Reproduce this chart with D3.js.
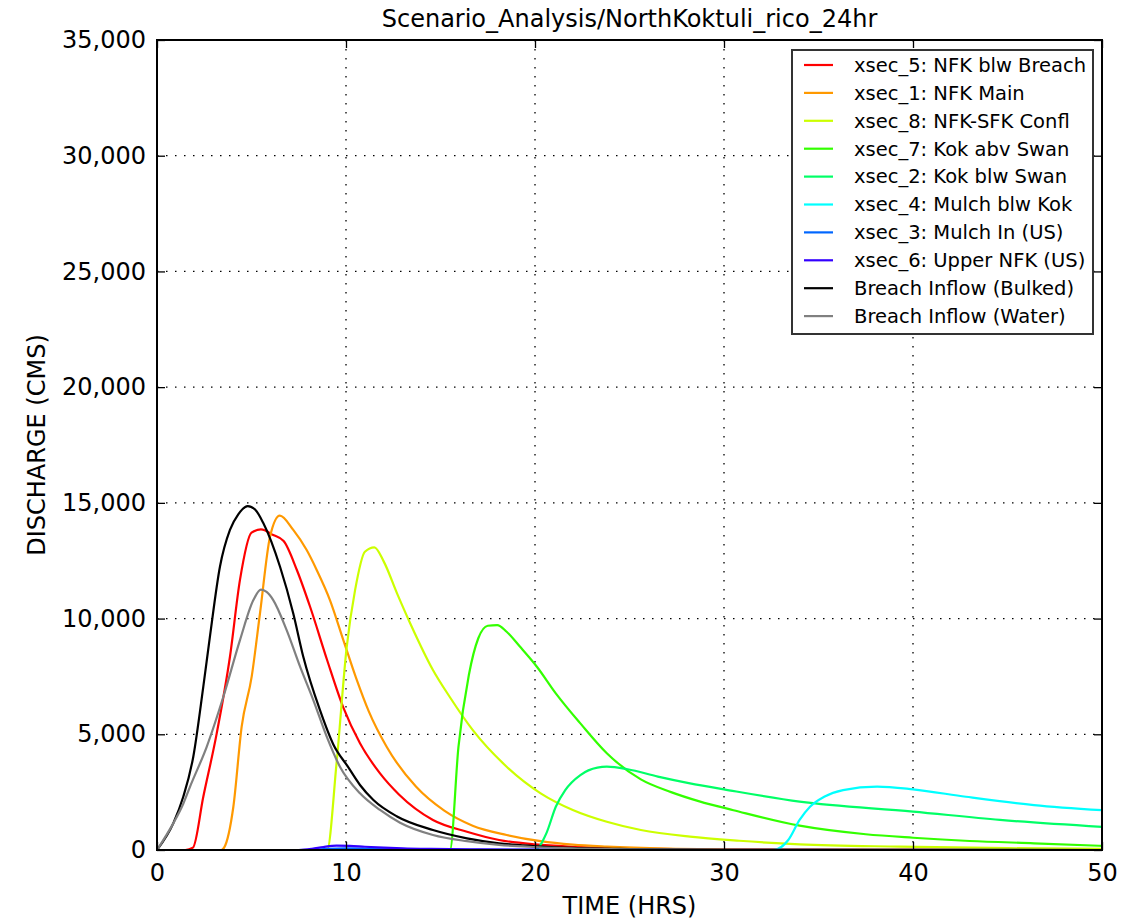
<!DOCTYPE html>
<html lang="en">
<head>
<meta charset="utf-8">
<title>Scenario_Analysis/NorthKoktuli_rico_24hr</title>
<script src="https://d3js.org/d3.v7.min.js"></script>
<style>
  body { margin: 0; background: #fff; }
  text { font-family: "DejaVu Sans", sans-serif; fill: #000; }
  .grid line { stroke: #000; stroke-width: 1.3; stroke-dasharray: 1.5,7.5; }
  .series { fill: none; stroke-width: 2.2; stroke-linejoin: round; }
</style>
</head>
<body>
<div id="vis"></div>
<script>
// hydrographs, [hours, cms]
var xsec5 = [[0,0],[1.5,0],[1.9,100],[2.45,2300],[3.16,5040],[3.86,8350],[4.39,11670],[5.0,13710],[5.5,13850],[6.15,13610],[6.7,13350],[7.4,12100],[8.1,10510],[9.0,8210],[9.86,6150],[10.74,4610],[11.8,3310],[12.8,2400],[14.6,1300],[16.4,790],[18.1,432],[20.0,240],[22,140],[25,70],[30,20],[40,5],[50,0]];
var xsec1 = [[0,0],[3.4,0],[3.55,100],[4.04,1870],[4.48,5330],[5.01,7490],[5.45,10230],[5.98,13540],[6.5,14450],[7.21,13830],[7.92,12960],[8.45,12100],[9.15,10800],[9.86,9070],[10.57,7350],[11.2,6000],[12.15,4460],[13.7,2740],[15.2,1700],[16.7,1050],[18.5,650],[20.3,380],[22,230],[23.8,145],[27,60],[30,30],[35,10],[50,0]];
var xsec8 = [[0,0],[9.0,0],[9.5,3750],[10.04,8790],[10.48,11230],[11.0,12890],[11.5,13080],[12.0,12460],[12.7,11090],[13.4,9790],[14.6,7780],[15.5,6600],[16.7,5190],[18.5,3600],[20.3,2450],[22,1730],[23.8,1220],[25.6,864],[28.2,576],[30.8,400],[34,245],[39.3,145],[45,80],[50,50]];
var xsec7 = [[0,0],[15.5,0],[15.95,4460],[16.5,7560],[17.0,9150],[17.5,9690],[18.0,9720],[18.5,9430],[19.2,8790],[20.1,7920],[21.1,6770],[22.4,5470],[23.8,4180],[25.6,3050],[27.2,2500],[28.7,2100],[30.5,1720],[34,1050],[37.5,680],[40,530],[43,390],[46.4,290],[50,180]];
var xsec2 = [[0,0],[20.0,0],[20.6,720],[21.1,1870],[21.6,2590],[22.4,3240],[23.3,3560],[23.8,3600],[24.9,3490],[26.5,3170],[28.2,2880],[30,2620],[34,2090],[40,1660],[44.6,1300],[50,1000]];
var xsec4 = [[0,0],[32.6,0],[33.4,432],[34.0,1300],[34.55,1870],[35.3,2300],[36.3,2590],[38.1,2740],[40,2620],[42.8,2300],[46.4,1940],[50,1720]];
var xsec3 = [[0,0],[8,0],[9,50],[10,70],[12,40],[16,10],[25,0],[50,0]];
var xsec6 = [[0,0],[7.5,0],[8.2,50],[8.8,130],[9.5,190],[10.2,180],[11,140],[12,100],[13,70],[14.5,45],[17,25],[20,12],[30,4],[50,0]];
var bulked = [[0,0],[0.86,1150],[1.39,2300],[1.92,4030],[2.45,7060],[2.8,9220],[3.33,12240],[3.86,13830],[4.3,14500],[4.8,14860],[5.2,14700],[5.63,14120],[6.51,12240],[7.21,10220],[7.74,8350],[8.62,6050],[9.33,4560],[10.1,3600],[10.74,2810],[11.45,2160],[12.7,1450],[14.6,864],[16.4,504],[18.1,290],[19.9,173],[22,90],[25,40],[30,10],[50,0]];
var water = [[0,0],[0.86,1150],[1.39,2000],[1.75,2740],[2.63,4460],[3.51,6620],[4.39,9070],[5.1,10800],[5.5,11250],[5.8,11150],[6.15,10800],[6.86,9500],[7.57,7920],[8.27,6480],[8.98,4900],[9.68,3600],[10.74,2450],[11.8,1730],[12.86,1180],[14.6,650],[16.4,380],[18.1,220],[20,130],[22,70],[25,30],[30,8],[50,0]];

var names = ["xsec_5: NFK blw Breach","xsec_1: NFK Main","xsec_8: NFK-SFK Confl","xsec_7: Kok abv Swan",
             "xsec_2: Kok blw Swan","xsec_4: Mulch blw Kok","xsec_3: Mulch In (US)","xsec_6: Upper NFK (US)",
             "Breach Inflow (Bulked)","Breach Inflow (Water)"];
var colors = ["#ff0000","#ff9900","#ccff00","#33ff00","#00ff66","#00ffff","#0066ff","#3300ff","#000000","#808080"];
var series = [xsec5, xsec1, xsec8, xsec7, xsec2, xsec4, xsec3, xsec6, bulked, water];

var xTicks = [0,10,20,30,40,50];
var yTicks = [0,5000,10000,15000,20000,25000,30000,35000];

var margin = {left: 157, top: 40};
var width = 945, height = 810;

var svg = d3.select("#vis").append("svg")
    .attr("width", 1145)
    .attr("height", 921);

var g = svg.append("g")
    .attr("transform", "translate(" + margin.left + "," + margin.top + ")");

var x = d3.scaleLinear().domain([0, 50]).range([0, width]);
var y = d3.scaleLinear().domain([0, 35000]).range([height, 0]);

// grid
var grid = g.append("g").attr("class", "grid");
grid.selectAll(".gx").data(xTicks.slice(1, -1)).enter().append("line")
    .attr("x1", function(d){ return x(d); }).attr("x2", function(d){ return x(d); })
    .attr("y1", 0).attr("y2", height);
grid.selectAll(".gy").data(yTicks.slice(1, -1)).enter().append("line")
    .attr("y1", function(d){ return y(d); }).attr("y2", function(d){ return y(d); })
    .attr("x1", 0).attr("x2", width);

g.append("clipPath").attr("id", "clip")
  .append("rect").attr("width", width).attr("height", height);

var line = d3.line()
    .x(function(d){ return x(d[0]); })
    .y(function(d){ return y(d[1]); })
    .curve(d3.curveMonotoneX);

g.append("g").attr("clip-path", "url(#clip)")
  .selectAll("path").data(series).enter().append("path")
    .attr("class", "series")
    .attr("stroke", function(d, i){ return colors[i]; })
    .attr("d", line);

// axes, ticks pointing in (classic style), on all four sides
var fmt = d3.format(",");
var xAxis = d3.axisBottom(x).tickValues(xTicks).tickSizeInner(-8).tickSizeOuter(0).tickPadding(14);
var yAxis = d3.axisLeft(y).tickValues(yTicks).tickFormat(fmt).tickSizeInner(-8).tickSizeOuter(0).tickPadding(11);

var ax = g.append("g").attr("transform", "translate(0," + height + ")").call(xAxis);
var ay = g.append("g").call(yAxis);
var axTop = g.append("g").call(d3.axisTop(x).tickValues(xTicks).tickSizeInner(-8).tickSizeOuter(0).tickFormat(""));
var ayRight = g.append("g").attr("transform", "translate(" + width + ",0)")
    .call(d3.axisRight(y).tickValues(yTicks).tickSizeInner(-8).tickSizeOuter(0).tickFormat(""));

[ax, ay, axTop, ayRight].forEach(function(a){
  a.select(".domain").remove();
  a.selectAll(".tick line").attr("stroke", "#000").attr("stroke-width", 1.3);
  a.selectAll("text").style("font-size", "24px").style("font-family", "DejaVu Sans, sans-serif").attr("fill", "#000");
});

g.append("rect")
    .attr("width", width).attr("height", height)
    .attr("fill", "none").attr("stroke", "#000").attr("stroke-width", 2);

// titles
svg.append("text")
    .attr("x", margin.left + width / 2).attr("y", 27)
    .attr("text-anchor", "middle").style("font-size", "24px")
    .text("Scenario_Analysis/NorthKoktuli_rico_24hr");

svg.append("text")
    .attr("x", margin.left + width / 2).attr("y", 914)
    .attr("text-anchor", "middle").style("font-size", "24px")
    .text("TIME (HRS)");

svg.append("text")
    .attr("transform", "translate(45," + (margin.top + height / 2) + ") rotate(-90)")
    .attr("text-anchor", "middle").style("font-size", "24px")
    .text("DISCHARGE (CMS)");

// legend
var lg = svg.append("g").attr("transform", "translate(792,50)");
lg.append("rect")
    .attr("width", 301).attr("height", 284)
    .attr("fill", "#fff").attr("stroke", "#333").attr("stroke-width", 2);

var rows = lg.selectAll(".row").data(names).enter().append("g")
    .attr("transform", function(d, i){ return "translate(0," + (15 + i * 27.9) + ")"; });
rows.append("line")
    .attr("x1", 12).attr("x2", 41)
    .attr("stroke", function(d, i){ return colors[i]; })
    .attr("stroke-width", 2.2);
rows.append("text")
    .attr("x", 62).attr("dy", "0.35em")
    .style("font-size", "19.5px")
    .text(function(d){ return d; });
</script>
</body>
</html>
